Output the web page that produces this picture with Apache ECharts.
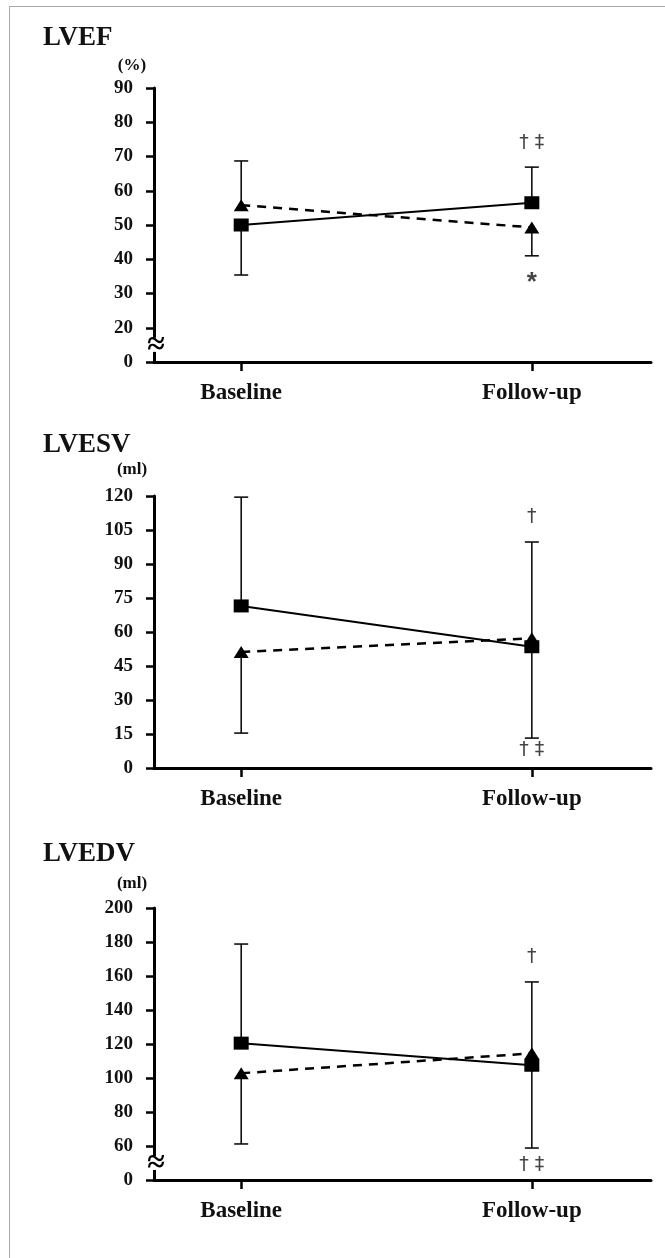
<!DOCTYPE html>
<html>
<head>
<meta charset="utf-8">
<title>LVEF / LVESV / LVEDV</title>
<script src="https://cdn.jsdelivr.net/npm/echarts@6/dist/echarts.min.js"></script>
<style>
  html, body { margin: 0; padding: 0; background: #fff; }
  #main { width: 665px; height: 1258px; }
</style>
</head>
<body>
<div id="main"></div>
<script>
const groups = ['Baseline', 'Follow-up'];

// LVEF (%)  -- whisker arrays hold the end value of each SD bar
const lvefSquare = [50, 56.5];
const lvefTriangle = [55.8, 49.3];
const lvefSquareBar = [35.4, 66.9];
const lvefTriangleBar = [68.7, 41];
const lvefAxis = [10, 90, 10];          // min, max, step (bottom tick is the broken "0")
const lvefNotes = [['† ‡', 73.9], ['*', 33]];

// LVESV (ml)
const lvesvSquare = [71.5, 53.5];
const lvesvTriangle = [51.2, 57.2];
const lvesvSquareBar = [119.5, 13.2];
const lvesvTriangleBar = [15.4, 99.7];
const lvesvAxis = [0, 120, 15];
const lvesvNotes = [['†', 110.7], ['† ‡', 7.9]];

// LVEDV (ml)
const lvedvSquare = [120.5, 107.5];
const lvedvTriangle = [102.8, 114.5];
const lvedvSquareBar = [178.8, 58.8];
const lvedvTriangleBar = [61.2, 156.5];
const lvedvAxis = [40, 200, 20];        // bottom tick is the broken "0"
const lvedvNotes = [['†', 171.2], ['† ‡', 48.8]];

const panels = [
    { title: 'LVEF', unit: '(%)', sq: lvefSquare, tri: lvefTriangle, sqBar: lvefSquareBar, triBar: lvefTriangleBar,
      axis: lvefAxis, notes: lvefNotes, broken: true, top: 88, height: 274, titleY: 38.5, unitY: 66 },
    { title: 'LVESV', unit: '(ml)', sq: lvesvSquare, tri: lvesvTriangle, sqBar: lvesvSquareBar, triBar: lvesvTriangleBar,
      axis: lvesvAxis, notes: lvesvNotes, broken: false, top: 496, height: 272, titleY: 445, unitY: 470 },
    { title: 'LVEDV', unit: '(ml)', sq: lvedvSquare, tri: lvedvTriangle, sqBar: lvedvSquareBar, triBar: lvedvTriangleBar,
      axis: lvedvAxis, notes: lvedvNotes, broken: true, top: 908, height: 272, titleY: 854, unitY: 884 }
];

const serif = '"Liberation Serif", "Times New Roman", serif';
const X_MIN = -0.3, X_MAX = 1.41;

const errorBar = (params, api) => {
    const x = api.value(0);
    const from = api.coord([x, api.value(1)]);
    const to = api.coord([x, api.value(2)]);
    const st = { stroke: '#000', lineWidth: 1.5 };
    return {
        type: 'group',
        children: [
            { type: 'line', shape: { x1: from[0], y1: from[1], x2: to[0], y2: to[1] }, style: st },
            { type: 'line', shape: { x1: to[0] - 7, y1: to[1], x2: to[0] + 7, y2: to[1] }, style: st }
        ]
    };
};

const makeNoteText = (texts) => (params, api) => {
    const p = api.coord([api.value(0), api.value(1)]);
    const txt = texts[params.dataIndex];
    const star = txt === '*';
    return {
        type: 'text', x: p[0], y: p[1],
        style: {
            text: txt, align: 'center', verticalAlign: 'middle',
            font: star ? 'bold 26px "Liberation Sans", sans-serif' : '19px "DejaVu Sans", sans-serif',
            fill: '#444'
        }
    };
};

const breakMark = (params, api) => {
    const p = api.coord([api.value(0), api.value(1)]);
    return {
        type: 'group',
        children: [
            { type: 'rect', shape: { x: p[0] - 3, y: p[1] - 7, width: 6, height: 14 }, style: { fill: '#fff' } },
            { type: 'text', x: p[0] + 2, y: p[1] + 1, style: { text: '≈', align: 'center', verticalAlign: 'middle',
              font: 'bold 32px ' + serif, fill: '#000' } }
        ]
    };
};

const grid = [], xAxis = [], yAxis = [], series = [], graphic = [];

panels.forEach((pn, i) => {
    grid.push({ left: 154, width: 497, top: pn.top, height: pn.height });
    xAxis.push({
        type: 'value', gridIndex: i, min: X_MIN, max: X_MAX,
        axisLine: { show: true, onZero: false, lineStyle: { color: '#000', width: 3 } },
        axisTick: { show: true, customValues: [0, 1], length: 9, lineStyle: { color: '#000', width: 2.5 } },
        axisLabel: { customValues: [0, 1], formatter: v => groups[Math.round(v)], margin: 20,
            fontFamily: serif, fontWeight: 'bold', fontSize: 23, color: '#111' },
        splitLine: { show: false }
    });
    const [mn, mx, step] = pn.axis;
    yAxis.push({
        type: 'value', gridIndex: i, min: mn, max: mx, interval: step,
        axisLine: { show: true, onZero: false, lineStyle: { color: '#000', width: 3 } },
        axisTick: { show: true, length: 8, lineStyle: { color: '#000', width: 2.5 } },
        axisLabel: { formatter: v => (pn.broken && v === mn) ? '0' : String(v), margin: 21,
            fontFamily: serif, fontWeight: 'bold', fontSize: 19, color: '#111' },
        splitLine: { show: false }
    });

    series.push({
        type: 'custom', xAxisIndex: i, yAxisIndex: i, renderItem: errorBar, z: 1,
        encode: { x: 0, y: [1, 2] },
        data: [[0, pn.sq[0], pn.sqBar[0]], [1, pn.sq[1], pn.sqBar[1]],
               [0, pn.tri[0], pn.triBar[0]], [1, pn.tri[1], pn.triBar[1]]]
    });
    series.push({
        type: 'line', xAxisIndex: i, yAxisIndex: i, z: 3,
        data: [[0, pn.tri[0]], [1, pn.tri[1]]],
        symbol: 'triangle', symbolSize: [15, 12], showAllSymbol: true,
        lineStyle: { color: '#000', width: 2.5, type: [9, 7] },
        itemStyle: { color: '#000' }
    });
    series.push({
        type: 'line', xAxisIndex: i, yAxisIndex: i, z: 4,
        data: [[0, pn.sq[0]], [1, pn.sq[1]]],
        symbol: 'rect', symbolSize: [15, 13],
        lineStyle: { color: '#000', width: 2 },
        itemStyle: { color: '#000' }
    });
    series.push({
        type: 'custom', xAxisIndex: i, yAxisIndex: i, renderItem: makeNoteText(pn.notes.map(n => n[0])), z: 5,
        clip: false,
        data: pn.notes.map(n => [1, n[1]])
    });
    if (pn.broken) {
        series.push({
            type: 'custom', xAxisIndex: i, yAxisIndex: i, renderItem: breakMark, z: 10, clip: false,
            data: [[X_MIN, mn + step / 2]]
        });
    }

    graphic.push({ type: 'text', x: 43, y: pn.titleY,
        style: { text: pn.title, font: 'bold 27px ' + serif, fill: '#111', verticalAlign: 'middle' } });
    graphic.push({ type: 'text', x: 132, y: pn.unitY,
        style: { text: pn.unit, font: 'bold 17px ' + serif, fill: '#111', align: 'center', verticalAlign: 'middle' } });
});

// frame edges
graphic.push({ type: 'line', shape: { x1: 9, y1: 6.5, x2: 665, y2: 6.5 }, style: { stroke: '#aaa', lineWidth: 1 } });
graphic.push({ type: 'line', shape: { x1: 9.5, y1: 6, x2: 9.5, y2: 1258 }, style: { stroke: '#aaa', lineWidth: 1 } });

const chart = echarts.init(document.getElementById('main'));
chart.setOption({
    animation: false,
    backgroundColor: '#fff',
    grid, xAxis, yAxis, series, graphic
});
</script>
</body>
</html>
